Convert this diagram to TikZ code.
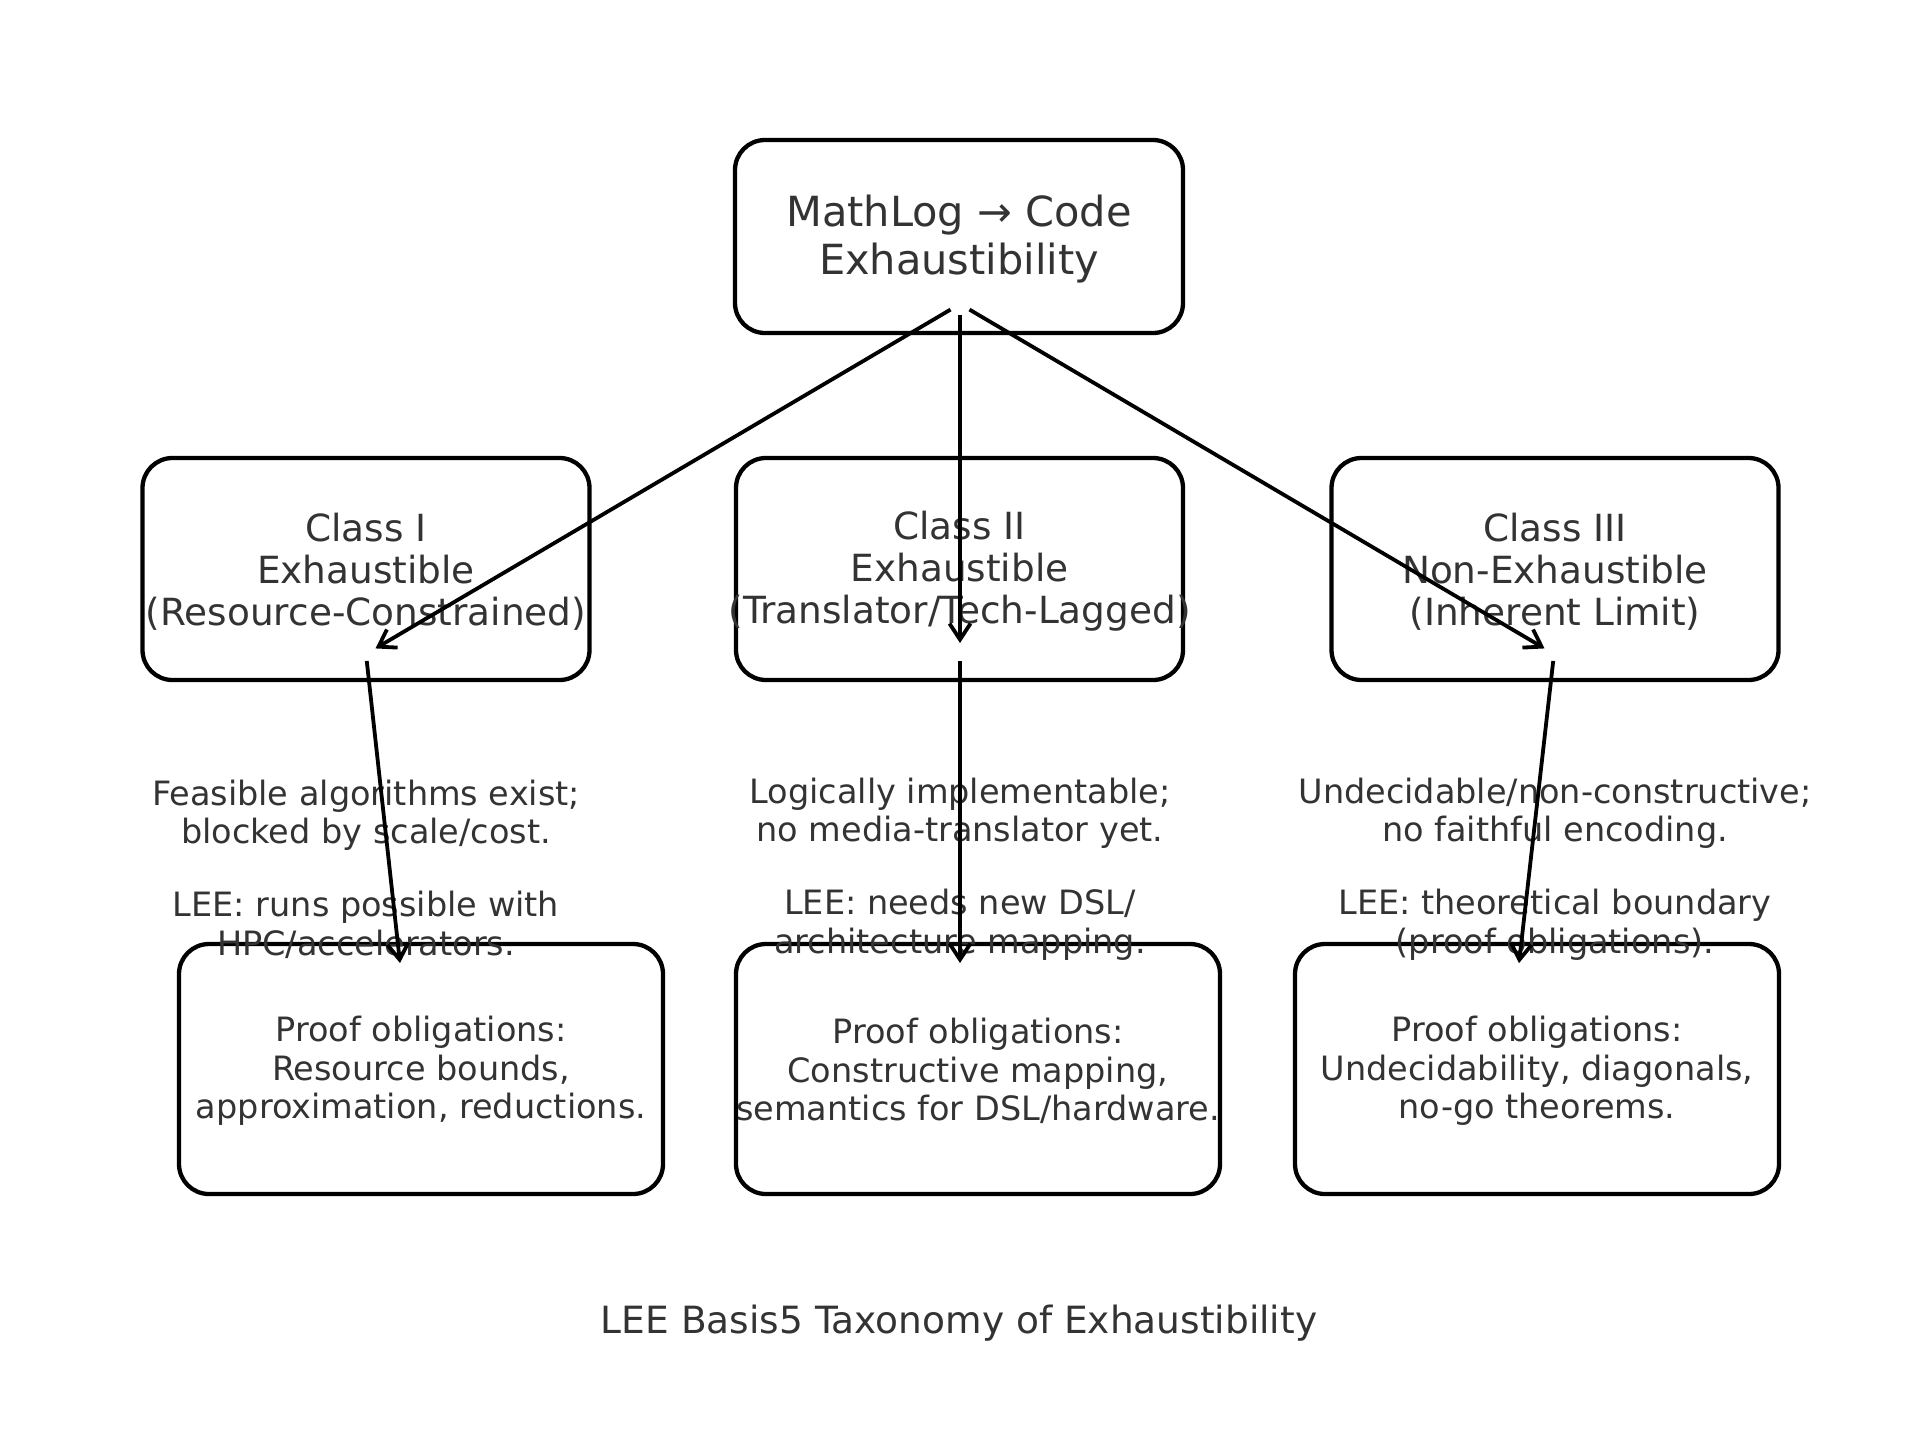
\documentclass[tikz,border=0pt]{standalone}
\usepackage{fontspec}
\setmainfont{DejaVu Sans}
\usetikzlibrary{arrows.meta}
\definecolor{txt}{HTML}{333333}
\newcommand{\topstrut}[1]{\rule{0pt}{#1}}
\begin{document}
\begin{tikzpicture}[x=1pt,y=-1pt,
  box/.style={draw=black, line width=4.3pt, rounded corners=30pt, align=center, text=txt, inner sep=0pt},
  topbox/.style={box, minimum width=448pt, minimum height=193pt, font=\fontsize{41.5}{48}\selectfont},
  midbox/.style={box, minimum width=447pt, minimum height=222pt, font=\fontsize{37.4}{42}\selectfont},
  botbox/.style={box, minimum width=484pt, minimum height=250pt, font=\fontsize{33.5}{38.5}\selectfont},
  note/.style={align=center, text=txt, inner sep=0pt, font=\fontsize{33.5}{38.5}\selectfont},
  arr/.style={draw=black, line width=3.8pt, -{Straight Barb[length=16pt,width=21pt]}, shorten <=11pt, shorten >=11pt},
  arrb/.style={arr, shorten <=7pt, shorten >=9pt}]
\useasboundingbox (0,0) rectangle (1919,1446);
\fill[white] (0,0) rectangle (1919,1446);

\node[topbox] (top) at (959,236.5) {\topstrut{37.5pt}MathLog → Code\\Exhaustibility};

\node[midbox] (c1) at (366,569) {\topstrut{33.4pt}Class I\\Exhaustible\\\makebox[0pt][c]{(Resource-Constrained)}};
\node[midbox] (c2) at (959.5,569) {\topstrut{33.4pt}Class II\\Exhaustible\\\makebox[0pt][c]{(Translator/Tech-Lagged)}};
\node[midbox] (c3) at (1555,569) {\topstrut{33.4pt}Class III\\Non-Exhaustible\\(Inherent Limit)};

\node[botbox] (p1) at (421,1069) {\topstrut{29.5pt}Proof obligations:\\Resource bounds,\\approximation, reductions.};
\node[botbox] (p2) at (978,1069) {\topstrut{29.5pt}Proof obligations:\\Constructive mapping,\\\makebox[0pt][c]{semantics for DSL/hardware.}};
\node[botbox] (p3) at (1537,1069) {\topstrut{29.5pt}Proof obligations:\\Undecidability, diagonals,\\no-go theorems.};

\node[note] (n1) at (366,869) {Feasible algorithms exist;\\blocked by scale/cost.\\[34.5pt]LEE: runs possible with\\HPC/accelerators.};
\node[note] (n2) at (960,869) {Logically implementable;\\no media-translator yet.\\[34.5pt]LEE: needs new DSL/\\architecture mapping.};
\node[note] (n3) at (1555,869) {Undecidable/non-constructive;\\no faithful encoding.\\[34.5pt]LEE: theoretical boundary\\(proof obligations).};

\node[text=txt, inner sep=0pt, anchor=base, font=\fontsize{37.5}{42}\selectfont] (title) at (959,1333) {LEE Basis5 Taxonomy of Exhaustibility};

\coordinate (o) at (960,304);
\coordinate (a1) at (366,654);
\coordinate (a2) at (960,654);
\coordinate (a3) at (1554,654);
\coordinate (b1) at (401,972);
\coordinate (b2) at (960,972);
\coordinate (b3) at (1518,972);

\draw[arr] (o) -- (a1);
\draw[arr] (o) -- (a2);
\draw[arr] (o) -- (a3);
\draw[arrb] (a1) -- (b1);
\draw[arrb] (a2) -- (b2);
\draw[arrb] (a3) -- (b3);
\end{tikzpicture}
\end{document}
